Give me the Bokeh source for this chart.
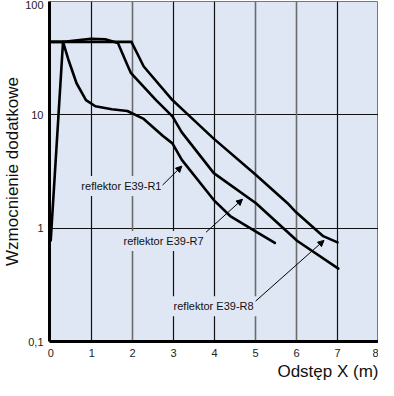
from bokeh.plotting import figure
from bokeh.models import (Range1d, FixedTicker, Grid, Label, Arrow, NormalHead,
                          Title, CustomJSTickFormatter)
from bokeh.embed import file_html
from bokeh.resources import INLINE

# ---- data ----
r8_x = [0.0, 1.0, 1.97, 2.27, 2.97, 3.37, 3.97, 5.01, 5.78, 5.99, 6.65, 7.0]
r8_y = [44, 44, 44, 26.7, 13.5, 9.9, 6.2, 2.94, 1.66, 1.38, 0.85, 0.75]

r7_x = [0.0, 0.32, 0.98, 1.33, 1.64, 1.87, 1.96, 2.57, 2.97, 3.2, 3.98, 5.01, 6.02, 7.02]
r7_y = [44, 44, 46.9, 46.5, 43, 27.5, 23.3, 13.5, 9.7, 7.0, 3.06, 1.66, 0.77, 0.44]

r1_x = [0.0, 0.3, 0.44, 0.63, 0.86, 1.09, 1.49, 1.87, 2.27, 2.74, 2.97, 3.2, 3.98, 4.38, 5.08, 5.47]
r1_y = [0.78, 44, 30, 19, 13.5, 11.9, 11.2, 10.8, 9.2, 6.5, 5.6, 4.0, 1.77, 1.28, 0.9, 0.74]

label_texts = ["reflektor E39-R1", "reflektor E39-R7", "reflektor E39-R8"]
label_x = [0.65, 1.68, 2.9]
label_y = [2.35, 0.77, 0.205]
arrow_x0 = [2.73, 3.79, 5.0]
arrow_y0 = [2.4, 0.92, 0.227]
arrow_x1 = [3.2, 4.68, 6.67]
arrow_y1 = [3.53, 1.8, 0.78]

x_ticks = [0, 1, 2, 3, 4, 5, 6, 7, 8]
y_ticks = [0.1, 1, 10, 100]
x_title = "Odstęp X (m)"
y_title = "Wzmocnienie dodatkowe"

X_MIN, X_MAX = -0.03, 8.0
Y_MIN, Y_MAX = 0.1, 100

BG = "#dfe7f4"
FONT = "Liberation Sans"

p = figure(width=378, height=380, y_axis_type="log",
           x_range=Range1d(X_MIN, X_MAX), y_range=Range1d(Y_MIN, Y_MAX),
           output_backend="svg", toolbar_location=None,
           min_border_left=44, min_border_right=0, min_border_top=1,
           min_border_bottom=39)

p.background_fill_color = BG
p.border_fill_color = "white"
p.outline_line_color = "#777777"
p.outline_line_width = 1

# grids
p.xgrid.visible = False
p.ygrid.ticker = FixedTicker(ticks=[1, 10])
p.ygrid.grid_line_color = "#111111"
p.ygrid.grid_line_width = 1.2
g1 = Grid(dimension=0, ticker=FixedTicker(ticks=[1, 3, 4, 7, 8]),
          grid_line_color="#111111", grid_line_width=1.2)
g2 = Grid(dimension=0, ticker=FixedTicker(ticks=[2, 5, 6]),
          grid_line_color="#6b6b6b", grid_line_width=1.6)
p.add_layout(g1)
p.add_layout(g2)

# axes
p.xaxis.ticker = FixedTicker(ticks=x_ticks)
p.yaxis.ticker = FixedTicker(ticks=y_ticks)
p.yaxis.formatter = CustomJSTickFormatter(
    code="const v = Math.round(tick*10)/10; return v.toString().replace('.', ',');")
for ax in (p.xaxis[0], p.yaxis[0]):
    ax.major_tick_line_color = None
    ax.minor_tick_line_color = None
    ax.major_tick_out = 0
    ax.major_tick_in = 0
    ax.minor_tick_out = 0
    ax.minor_tick_in = 0
    ax.axis_line_color = "black"
    ax.axis_line_width = 3
    ax.major_label_text_font = FONT
    ax.major_label_text_font_size = "11px"
    ax.major_label_text_color = "#222222"
p.xaxis.major_label_standoff = 7
p.yaxis.major_label_standoff = 6
p.yaxis.axis_label = y_title
p.yaxis.axis_label_text_font = FONT
p.yaxis.axis_label_text_font_size = "17px"
p.yaxis.axis_label_text_font_style = "normal"
p.yaxis.axis_label_text_color = "#111111"
p.yaxis.axis_label_standoff = 0

p.add_layout(Title(text=x_title, align="right", text_font=FONT,
                   text_font_size="17px", text_font_style="normal",
                   text_color="#111111", standoff=0), "below")

# curves
for xs, ys in ((r8_x, r8_y), (r7_x, r7_y), (r1_x, r1_y)):
    p.line(xs, ys, line_color="black", line_width=2.6, line_join="round",
           line_cap="round")

# labels and arrows
for t, lx, ly, x0, y0, x1, y1 in zip(label_texts, label_x, label_y,
                                      arrow_x0, arrow_y0, arrow_x1, arrow_y1):
    p.add_layout(Label(x=lx, y=ly, text=t, text_font=FONT,
                       text_font_size="11px", text_color="#111111",
                       text_baseline="middle", text_align="left",
                       background_fill_color=BG, padding=4))
    p.add_layout(Arrow(end=NormalHead(size=6, fill_color="black",
                                      line_color="black", line_width=1),
                       x_start=x0, y_start=y0, x_end=x1, y_end=y1,
                       line_color="black", line_width=1))

open("out.html", "w").write(file_html(p, INLINE))
